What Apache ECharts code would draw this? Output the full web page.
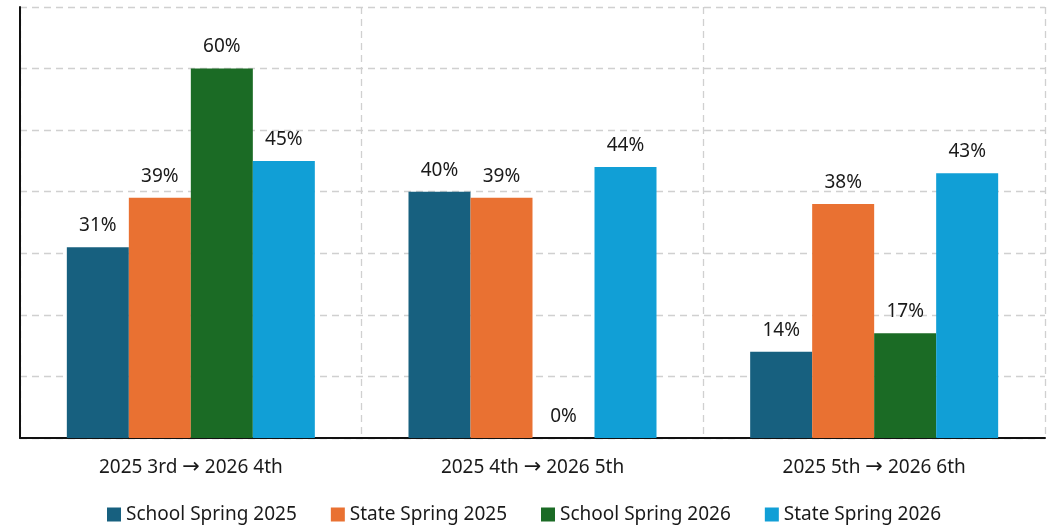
<!DOCTYPE html>
<html>
<head>
<meta charset="utf-8">
<script src="https://cdn.jsdelivr.net/npm/echarts@6/dist/echarts.min.js"></script>
<style>
  html, body { margin: 0; padding: 0; background: #fff; }
  #chart { width: 1048px; height: 530px; }
</style>
</head>
<body>
<div id="chart"></div>
<script>
// 年级过渡分类
const categories = ['2025 3rd \u2192 2026 4th', '2025 4th \u2192 2026 5th', '2025 5th \u2192 2026 6th']
const seriesNames = ['School Spring 2025', 'State Spring 2025', 'School Spring 2026', 'State Spring 2026']
const schoolSpring2025 = [31, 40, 14]
const stateSpring2025 = [39, 39, 38]
const schoolSpring2026 = [60, 0, 17]
const stateSpring2026 = [45, 44, 43]
const colors = ['#17607f', '#e97132', '#1b6b25', '#119fd6']

const fontFamily = '"Noto Sans", "Open Sans", sans-serif'
const values = [schoolSpring2025, stateSpring2025, schoolSpring2026, stateSpring2026]

let chartDom = document.getElementById('chart')
let myChart = echarts.init(chartDom)

let options = {
  animation: false,
  grid: { left: 20, right: 3, top: 7, bottom: 92 },
  legend: {
    bottom: 1,
    left: 'center',
    itemWidth: 14,
    itemHeight: 14,
    itemGap: 34,
    icon: 'rect',
    textStyle: { fontSize: 19, color: '#1a1a1a', fontFamily: fontFamily },
    data: seriesNames
  },
  xAxis: {
    type: 'category',
    data: categories,
    axisLine: { lineStyle: { color: '#111', width: 2 } },
    axisTick: { show: false },
    axisLabel: {
      fontSize: 19,
      color: '#1a1a1a',
      fontFamily: fontFamily,
      margin: 19,
      // 箭头换成较大的字形
      formatter: v => v.replace('\u2192', '{a|\u2192}'),
      rich: {
        a: { fontFamily: '"DejaVu Sans"', fontSize: 21, color: '#1a1a1a' }
      }
    },
    splitLine: { show: true, interval: 0, lineStyle: { color: '#d0d0d0', type: [7, 5], width: 1.3 } }
  },
  yAxis: {
    type: 'value',
    min: 0,
    max: 70,
    interval: 10,
    axisLine: { show: true, lineStyle: { color: '#111', width: 2 } },
    axisTick: { show: false },
    axisLabel: { show: false },
    splitLine: { lineStyle: { color: '#d0d0d0', type: [7, 5], width: 1.3 } }
  },
  series: seriesNames.map((name, i) => ({
    name: name,
    type: 'bar',
    data: values[i],
    barWidth: 62,
    barGap: '0%',
    itemStyle: { color: colors[i] },
    label: {
      show: true,
      position: 'top',
      distance: 12,
      formatter: '{c}%',
      fontSize: 19,
      color: '#1a1a1a',
      fontFamily: fontFamily
    }
  }))
}

myChart.setOption(options)
</script>
</body>
</html>
